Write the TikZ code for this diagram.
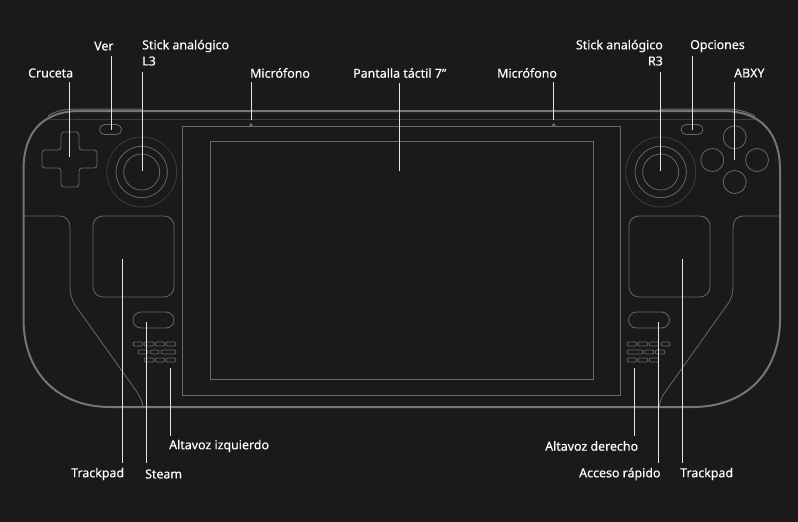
\documentclass[tikz,border=0pt]{standalone}
\usepackage{fontspec}
\setmainfont[FakeBold=0.25]{Noto Sans}
\definecolor{bgdark}{HTML}{1A1A1B}
\definecolor{bodyline}{HTML}{70767A}
\definecolor{partline}{HTML}{666869}
\definecolor{faintline}{HTML}{3C3D3E}
\definecolor{leadline}{HTML}{E4E4E4}
\tikzset{
  lbl/.style={text=white,inner sep=0pt,font=\fontsize{12.4}{14}\selectfont},
  part/.style={draw=partline,line width=0.8pt,inner sep=0pt},
  pad/.style={part,rounded corners=10pt,minimum width=81pt,minimum height=81pt},
  longbtn/.style={part,rounded corners=8pt,minimum width=41pt,minimum height=16pt},
  smallbtn/.style={part,rounded corners=5pt,minimum width=22pt,minimum height=10pt},
  grille/.style={draw=partline,line width=0.7pt,rounded corners=2pt},
  ring/.style={part,circle},
  leader/.style={draw=leadline,line width=0.9pt}
}
\begin{document}
\begin{tikzpicture}[x=1pt,y=-1pt]
\fill[bgdark] (0,0) rectangle (798,522);
\useasboundingbox (0,0) rectangle (798,522);

% body
\draw[bodyline,line width=2pt] (23.5,320) -- (23.5,170) .. controls (23.5,135) and (40,111) .. (80,111)
  -- (723,111) .. controls (763,111) and (780,135) .. (780,170) -- (780,320)
  .. controls (779.5,375) and (743,407) .. (693,407) -- (110,407) .. controls (60,407) and (24,375) .. (23.5,320);
\draw[partline,line width=1pt] (48,116) .. controls (55,111) and (65,109) .. (77,109) -- (139,109) .. controls (141,109) and (142,110) .. (143,111);
\draw[partline,line width=1pt] (660,111) .. controls (661,110) and (662,109) .. (664,109) -- (727,109) .. controls (738,109) and (747,112) .. (755,116);
\draw[faintline,line width=0.7pt] (48,119) -- (755,119);

% grips
\draw[partline,line width=0.8pt] (24,216) -- (60,216) .. controls (66,216) and (70,221) .. (70,227) -- (70,287)
  .. controls (70,294) and (72,300) .. (75,305) -- (137,392) .. controls (140,397) and (142,401) .. (143,406);
\draw[partline,line width=0.8pt] (780,216) -- (743,216) .. controls (737,216) and (733,221) .. (733,227) -- (733,287)
  .. controls (733,294) and (731,300) .. (727,305) -- (663,395) .. controls (661,399) and (660,403) .. (659,407);

% screen
\node[part,minimum width=438pt,minimum height=269pt] (bezel) at (401,260.5) {};
\node[part,minimum width=383pt,minimum height=238pt] (screen) at (401.5,260) {};
\fill[partline] (251,125) circle (1.8pt) (553.7,125) circle (1.8pt);

% left controls
\draw[part,rounded corners=3pt] (61,132) -- (79,132) -- (79,150) -- (97,150) -- (97,168) -- (79,168) -- (79,187)
  -- (61,187) -- (61,168) -- (42,168) -- (42,150) -- (61,150) -- cycle;
\node[smallbtn] (verbtn) at (110.5,129.5) {};
\node[ring,draw=faintline,minimum size=70pt] (lstickout) at (141.7,172) {};
\node[ring,minimum size=51.4pt] (lstickmid) at (141.7,172) {};
\node[ring,minimum size=36pt] (lstickin) at (141.7,172) {};
\node[pad] (lpad) at (133.5,256.5) {};
\node[longbtn] (steambtn) at (153.5,320) {};

% right controls
\node[smallbtn] (optbtn) at (692,129.5) {};
\node[ring,draw=faintline,minimum size=70pt] (rstickout) at (660.7,172) {};
\node[ring,minimum size=51.4pt] (rstickmid) at (660.7,172) {};
\node[ring,minimum size=36pt] (rstickin) at (660.7,172) {};
\node[ring,minimum size=23pt] (btny) at (734.7,137.3) {};
\node[ring,minimum size=23pt] (btnx) at (712.3,160) {};
\node[ring,minimum size=23pt] (btnb) at (757,160) {};
\node[ring,minimum size=23pt] (btna) at (734.7,182) {};
\node[pad] (rpad) at (669.5,256.5) {};
\node[longbtn] (quickbtn) at (649,320) {};

% speakers
\foreach \xa/\xb/\yy in {133/143/344,144/154/344,155/165/344,166/176/344,138/148/352,150/159/352,161/176/352,144/154/360,155/165/360,166/176/360,
  627/637/344,638/648/344,649/659/344,661/670/344,627/643/352,644/654/352,655/665/352,627/637/360,638/648/360,649/659/360}
  \draw[grille] (\xa,\yy-2) rectangle (\xb,\yy+2);

% labels
\node[lbl,anchor=west] (cruceta) at (28,73) {Cruceta};
\node[lbl,anchor=west] (ver) at (94,46) {Ver};
\node[lbl,anchor=west] (stickl) at (142,46) {Stick analógico};
\node[lbl,anchor=west] (lthree) at (142,61) {L3};
\node[lbl,anchor=west] (micl) at (250,73) {Micrófono};
\node[lbl,anchor=west] (pantalla) at (353,73) {Pantalla táctil 7”};
\node[lbl,anchor=west] (micr) at (497,73) {Micrófono};
\node[lbl,anchor=east] (stickr) at (663,46) {Stick analógico};
\node[lbl,anchor=east] (rthree) at (663,61) {R3};
\node[lbl,anchor=west] (opciones) at (690,46) {Opciones};
\node[lbl,anchor=west] (abxy) at (734,73) {ABXY};
\node[lbl,anchor=west] (altizq) at (169,446) {Altavoz izquierdo};
\node[lbl,anchor=west] (altder) at (545,446) {Altavoz derecho};
\node[lbl,anchor=west] (trackl) at (71,474) {Trackpad};
\node[lbl,anchor=west] (steam) at (145,474) {Steam};
\node[lbl,anchor=west] (acceso) at (579,474) {Acceso rápido};
\node[lbl,anchor=west] (trackr) at (680,474) {Trackpad};

% leader ends
\coordinate (pcruceta) at (69.7,157);
\coordinate (pver) at (111,130);
\coordinate (plthree) at (142.7,171);
\coordinate (pmicl) at (251,120);
\coordinate (ppantalla) at (399,171);
\coordinate (pmicr) at (553.7,120);
\coordinate (prthree) at (660.7,171);
\coordinate (popciones) at (692.3,130);
\coordinate (pabxy) at (734.7,160);
\coordinate (ptrackl) at (122,259);
\coordinate (psteam) at (146,322);
\coordinate (paltizq) at (170.3,368);
\coordinate (paltder) at (634.7,368);
\coordinate (pacceso) at (658,322);
\coordinate (ptrackr) at (682,259);

% leaders
\path[leader]
  (pcruceta |- 0,82) edge (pcruceta)
  (pver |- 0,56) edge (pver)
  (plthree |- 0,72) edge (plthree)
  (pmicl |- 0,82) edge (pmicl)
  (ppantalla |- 0,83) edge (ppantalla)
  (pmicr |- 0,82) edge (pmicr)
  (prthree |- 0,72) edge (prthree)
  (popciones |- 0,56) edge (popciones)
  (pabxy |- 0,82) edge (pabxy)
  (ptrackl |- 0,463) edge (ptrackl)
  (psteam |- 0,463) edge (psteam)
  (paltizq |- 0,436) edge (paltizq)
  (paltder |- 0,436) edge (paltder)
  (pacceso |- 0,463) edge (pacceso)
  (ptrackr |- 0,463) edge (ptrackr);
\end{tikzpicture}
\end{document}
